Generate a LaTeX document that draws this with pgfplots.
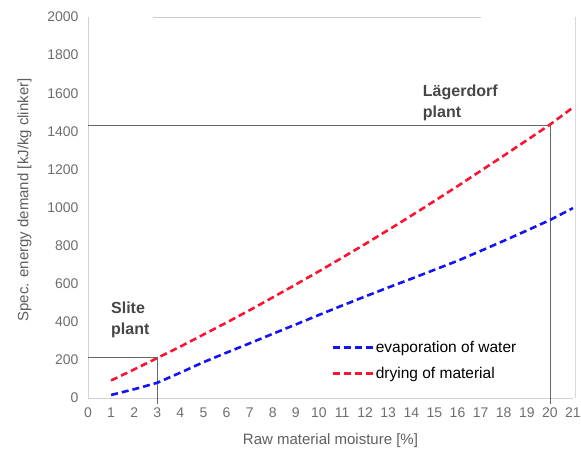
\documentclass[border=0pt]{standalone}
\usepackage{pgfplots}
\pgfplotsset{compat=1.18}
\usepackage{fontspec}
\setmainfont{Liberation Sans}
\definecolor{tickgray}{RGB}{110,110,110}
\definecolor{labgray}{RGB}{95,95,95}
\definecolor{plantgray}{RGB}{70,70,70}
\definecolor{lineblue}{RGB}{20,20,240}
\definecolor{linered}{RGB}{250,20,50}
\begin{document}
\begin{tikzpicture}[x=1pt,y=1pt]
\path[use as bounding box] (-88,-54) rectangle (493,398);
\begin{axis}[
  at={(0,0)}, anchor=south west,
  scale only axis, width=485pt, height=381pt,
  xmin=0, xmax=21, ymin=0, ymax=2000,
  xtick={0,1,...,21}, ytick={0,200,...,2000},
  axis x line*=bottom, axis y line*=left,
  axis line style={gray!35, line width=0.8pt},
  tick style={draw=none},
  ticklabel style={font=\fontsize{14}{16}\selectfont, text=tickgray},
  /pgf/number format/assume math mode=true,
  /pgf/number format/1000 sep={},
  xticklabel style={yshift=-6pt},
  yticklabel style={xshift=-6pt},
  xlabel={Raw material moisture [\%]},
  ylabel={Spec. energy demand [kJ/kg clinker]},
  xlabel style={at={(axis description cs:0.5,-0.112)}, anchor=center, font=\fontsize{15}{17}\selectfont, text=labgray},
  ylabel style={at={(axis description cs:-0.131,0.52)}, anchor=center, rotate=0, font=\fontsize{15}{17}\selectfont, text=labgray},
  clip=false,
  legend style={at={(0.495,0.16)}, anchor=north west, draw=none, fill=none,
    font=\fontsize{15.5}{18}\selectfont, row sep=9pt,
    /tikz/every even column/.append style={column sep=2pt}},
  legend cell align=left,
  legend image code/.code={\draw[#1] (0pt,0pt) -- (40pt,0pt);},
]
% reference lines
\draw[gray!80!black, line width=0.6pt] (axis cs:0,215) -- (axis cs:3,215) -- (axis cs:3,-30);
\draw[gray!80!black, line width=0.6pt] (axis cs:0,1433) -- (axis cs:20,1433) -- (axis cs:20,-30);
\draw[gray!30, line width=0.8pt] (axis cs:21.1,0) -- (axis cs:21.1,2000);
\draw[gray!40, line width=0.8pt] (axis cs:2.8,2000) -- (axis cs:17,2000);
\addplot[lineblue, line width=2.6pt, dash pattern=on 7pt off 4pt] coordinates {
(1,16) (2,46) (3,80) (4,133) (5,188) (6,238) (7,287) (8,337) (9,386) (10,436)
(11,485) (12,533) (13,580) (14,626) (15,673) (16,720) (17,772) (18,825) (19,879) (20,934) (21,997)};
\addlegendentry{evaporation of water}
\addplot[linered, line width=2.6pt, dash pattern=on 7pt off 4pt] coordinates {
(1,92) (2,150) (3,210) (4,270) (5,333) (6,396) (7,461) (8,528) (9,596) (10,665)
(11,736) (12,808) (13,882) (14,957) (15,1034) (16,1112) (17,1192) (18,1272) (19,1353) (20,1435) (21,1525)};
\addlegendentry{drying of material}
\node[anchor=west, align=left, font=\fontsize{16}{21}\selectfont\bfseries, text=plantgray] at (axis cs:0.85,409) {Slite\\plant};
\node[anchor=west, align=left, font=\fontsize{16}{21}\selectfont\bfseries, text=plantgray] at (axis cs:14.35,1549) {Lägerdorf\\plant};
\end{axis}
\end{tikzpicture}
\end{document}
